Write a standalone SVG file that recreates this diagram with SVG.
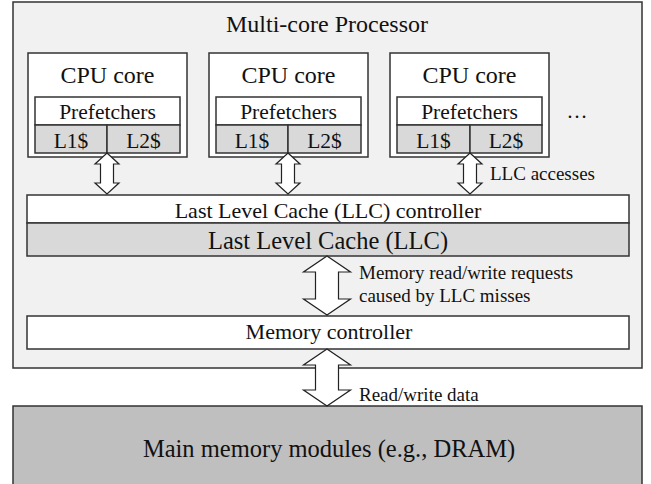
<svg xmlns="http://www.w3.org/2000/svg" width="651" height="484" viewBox="0 0 651 484" font-family="'Liberation Serif', 'Times New Roman', Times, 'DejaVu Serif', serif">
<style>
text{font-family:'Liberation Serif','Times New Roman',Times,'DejaVu Serif',serif;fill:#111;text-anchor:middle}
.box{stroke:#333;stroke-width:1.5}
.w{fill:#fff}
.g{fill:#d9d9d9}
.arr{fill:#fff;stroke:#222;stroke-width:1.2;stroke-linejoin:miter}
.lbl{text-anchor:start;font-size:19px}
</style>
<rect width="651" height="484" fill="#fff"/>
<g id="processor">
<rect class="box" x="13" y="2" width="629" height="366" fill="#f1f1f1"/>
<text x="327" y="32" font-size="24">Multi-core Processor</text>
</g>
<g id="core1">
<rect class="box w" x="28" y="53" width="159" height="104"/>
<text x="107.5" y="83" font-size="24">CPU core</text>
<rect class="box w" x="35" y="97" width="145" height="28"/>
<text x="107.5" y="119" font-size="21.5">Prefetchers</text>
<rect class="box g" x="35" y="125" width="72" height="28"/>
<rect class="box g" x="107" y="125" width="73" height="28"/>
<text x="71" y="148" font-size="21.5">L1$</text>
<text x="143.5" y="148" font-size="21.5">L2$</text>
</g>
<g id="core2">
<rect class="box w" x="209" y="53" width="159" height="104"/>
<text x="288.5" y="83" font-size="24">CPU core</text>
<rect class="box w" x="216" y="97" width="145" height="28"/>
<text x="288.5" y="119" font-size="21.5">Prefetchers</text>
<rect class="box g" x="216" y="125" width="72" height="28"/>
<rect class="box g" x="288" y="125" width="73" height="28"/>
<text x="252" y="148" font-size="21.5">L1$</text>
<text x="324.5" y="148" font-size="21.5">L2$</text>
</g>
<g id="core3">
<rect class="box w" x="390" y="53" width="159" height="104"/>
<text x="469.5" y="83" font-size="24">CPU core</text>
<rect class="box w" x="397" y="97" width="145" height="28"/>
<text x="469.5" y="119" font-size="21.5">Prefetchers</text>
<rect class="box g" x="397" y="125" width="73" height="28"/>
<rect class="box g" x="470" y="125" width="72" height="28"/>
<text x="433.5" y="148" font-size="21.5">L1$</text>
<text x="506" y="148" font-size="21.5">L2$</text>
</g>
<g id="ellipsis">
<text x="577" y="118" font-size="21">…</text>
</g>
<g id="llc">
<rect class="box w" x="27" y="195" width="602" height="28"/>
<text x="328" y="218" font-size="22">Last Level Cache (LLC) controller</text>
<rect class="box g" x="27" y="223" width="602" height="33"/>
<text x="328" y="249" font-size="24.5">Last Level Cache (LLC)</text>
</g>
<g id="memctrl">
<rect class="box w" x="27" y="316" width="602" height="33"/>
<text x="329" y="339" font-size="22">Memory controller</text>
</g>
<g id="dram">
<rect class="box" x="13" y="406" width="629" height="84" fill="#bfbfbf"/>
<text x="329" y="457" font-size="24.5">Main memory modules (e.g., DRAM)</text>
</g>
<g id="connectors">
<path class="arr" d="M107,153 L119,164 L113.5,164 L113.5,183 L119,183 L107,194 L95,183 L100.5,183 L100.5,164 L95,164 Z"/>
<path class="arr" d="M288,153 L300,164 L294.5,164 L294.5,183 L300,183 L288,194 L276,183 L281.5,183 L281.5,164 L276,164 Z"/>
<path class="arr" d="M470,153 L482,164 L476.5,164 L476.5,183 L482,183 L470,194 L458,183 L463.5,183 L463.5,164 L458,164 Z"/>
<path class="arr" d="M327,256 L350.5,272 L338.5,272 L338.5,299 L350.5,299 L327,315 L303.5,299 L315.5,299 L315.5,272 L303.5,272 Z"/>
<path class="arr" d="M327,349 L350.5,365 L338.5,365 L338.5,390 L350.5,390 L327,406 L303.5,390 L315.5,390 L315.5,365 L303.5,365 Z"/>
<text class="lbl" x="490" y="180">LLC accesses</text>
<text class="lbl" x="359" y="279">Memory read/write requests</text>
<text class="lbl" x="359" y="302">caused by LLC misses</text>
<text class="lbl" x="359" y="401">Read/write data</text>
</g>
</svg>
